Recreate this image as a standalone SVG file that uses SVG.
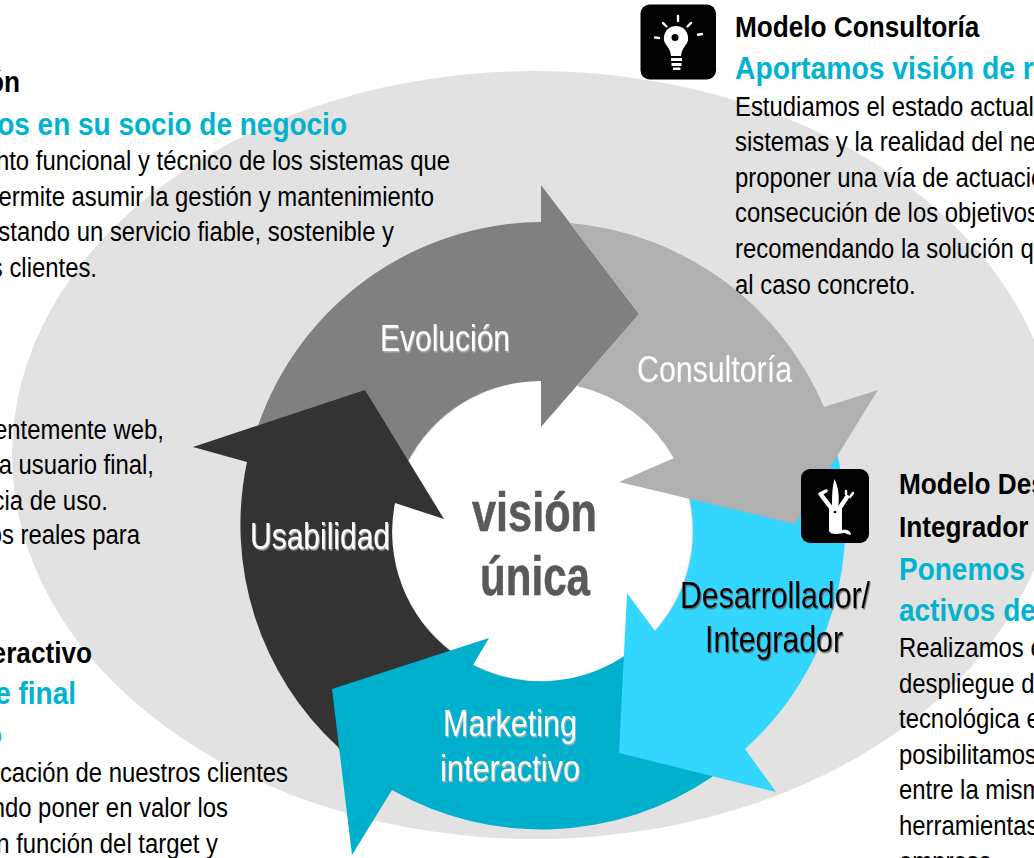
<svg xmlns="http://www.w3.org/2000/svg" width="1034" height="858" viewBox="0 0 1034 858">
<style>
text{font-family:"Liberation Sans",Arial,sans-serif}
.h{font-size:29.500px;font-weight:700;fill:#000}
.s{font-size:32px;font-weight:700;fill:#00b4cf}
.b{font-size:27px;fill:#000}
.e{text-anchor:end}
.l{font-size:36px;fill:#fff;filter:url(#sh)}
.d{font-size:36px;fill:#000;filter:url(#sd)}
.c{font-size:56px;font-weight:700;fill:#595959;stroke:#595959;stroke-width:.6}
.ico{fill:#000}
.w{fill:#fff}
.r{stroke:#fff;stroke-width:2.4;stroke-linecap:round;fill:none}
.k{stroke:#fff;fill:none;stroke-linecap:round}
</style>
<defs>
<filter id="sh" x="-5%" y="-10%" width="110%" height="125%"><feDropShadow dx="1" dy="1.500" stdDeviation="0.300" flood-color="#b8b8b8" flood-opacity=".9"/></filter>
<filter id="sd" x="-5%" y="-10%" width="110%" height="125%"><feDropShadow dx="1" dy="1.500" stdDeviation="0.300" flood-color="#555" flood-opacity=".7"/></filter>
</defs>
<ellipse id="fondo" cx="535" cy="455" rx="523" ry="384" fill="#e2e2e2"/>
<circle id="centro" cx="542" cy="531" r="150" fill="#fff"/>

<g id="texto-evolucion">
<text class="h e" transform="matrix(.888 0 0 1 20 92)">ón</text>
<text class="s e" transform="matrix(.875 0 0 1 347 135)">os en su socio de negocio</text>
<text class="b e" transform="matrix(.885 0 0 1 450 170)">nto funcional y técnico de los sistemas que</text>
<text class="b e" transform="matrix(.885 0 0 1 434 206)">ermite asumir la gestión y mantenimiento</text>
<text class="b e" transform="matrix(.885 0 0 1 394 241)">stando un servicio fiable, sostenible y</text>
<text class="b e" transform="matrix(.885 0 0 1 97 277)">s clientes.</text>
</g>
<g id="texto-usabilidad">
<text class="b e" transform="matrix(.885 0 0 1 164 439)">entemente web,</text>
<text class="b e" transform="matrix(.885 0 0 1 154 474)">a usuario final,</text>
<text class="b e" transform="matrix(.885 0 0 1 108 510)">cia de uso.</text>
<text class="b e" transform="matrix(.885 0 0 1 140 544)">os reales para</text>
</g>
<g id="texto-marketing">
<text class="h e" transform="matrix(.888 0 0 1 92 663)">eractivo</text>
<text class="s e" transform="matrix(.875 0 0 1 76 704)">e final</text>
<text class="s e" transform="matrix(.875 0 0 1 2 745)">o</text>
<text class="b e" transform="matrix(.885 0 0 1 288 782)">cación de nuestros clientes</text>
<text class="b e" transform="matrix(.885 0 0 1 228 817)">ndo poner en valor los</text>
<text class="b e" transform="matrix(.885 0 0 1 218 853)">n función del target y</text>
</g>
<g id="texto-consultoria">
<text class="h" transform="matrix(.888 0 0 1 735 37)">Modelo Consultoría</text>
<text class="s" transform="matrix(.885 0 0 1 735 79)">Aportamos visión de r</text>
<text class="b" transform="matrix(.885 0 0 1 735 116)">Estudiamos el estado actual</text>
<text class="b" transform="matrix(.885 0 0 1 735 151)">sistemas y la realidad del ne</text>
<text class="b" transform="matrix(.885 0 0 1 735 187)">proponer una vía de actuació</text>
<text class="b" transform="matrix(.885 0 0 1 735 222)">consecución de los objetivos</text>
<text class="b" transform="matrix(.885 0 0 1 735 258)">recomendando la solución q</text>
<text class="b" transform="matrix(.885 0 0 1 735 294)">al caso concreto.</text>
</g>
<g id="texto-desarrollador">
<text class="h" transform="matrix(.888 0 0 1 899 494)">Modelo Des</text>
<text class="h" transform="matrix(.888 0 0 1 899 537)">Integrador</text>
<text class="s" transform="matrix(.875 0 0 1 899 580)">Ponemos</text>
<text class="s" transform="matrix(.875 0 0 1 899 621)">activos de</text>
<text class="b" transform="matrix(.885 0 0 1 899 657)">Realizamos e</text>
<text class="b" transform="matrix(.885 0 0 1 899 693)">despliegue d</text>
<text class="b" transform="matrix(.885 0 0 1 899 728)">tecnológica e</text>
<text class="b" transform="matrix(.885 0 0 1 899 764)">posibilitamos</text>
<text class="b" transform="matrix(.885 0 0 1 899 799)">entre la mism</text>
<text class="b" transform="matrix(.885 0 0 1 899 835)">herramientas</text>
<text class="b" transform="matrix(.885 0 0 1 899 871)">empresa</text>
</g>

<g id="connectors">
<path id="flecha-evolucion" fill="#808080" d="M541 185L639 314L541 427V381A150 150 0 0 0 407 463L300 500L258 426A302 302 0 0 1 541 222Z"/>
<path id="flecha-usabilidad" fill="#333333" d="M193 447L365 390L444 519L395 503A150 150 0 0 0 452 652L345 760L338 747A302 302 0 0 1 247 462Z"/>
<path id="flecha-marketing" fill="#00b0cc" d="M332 689L489 638L473 665A150 150 0 0 0 630 652L730 740L712 777A303 303 0 0 1 392 790L352 855Z"/>
<path id="flecha-desarrollador" fill="#33d6ff" d="M627 593L655 631A150 150 0 0 0 680 470L835 445A303 303 0 0 1 745 749L776 792L619 753Z"/>
<path id="flecha-consultoria" fill="#b0b0b0" d="M570 223L639 314L577 386A150 150 0 0 1 674 458L619 482L795 524L878 390L824 407A305 305 0 0 0 570 223Z"/>
</g>

<g id="nodo-vision">
<text class="c" x="472" y="531" textLength="125" lengthAdjust="spacingAndGlyphs">visión</text>
<text class="c" x="480" y="595" textLength="110" lengthAdjust="spacingAndGlyphs">única</text>
</g>
<g id="nodo-evolucion"><text class="l" x="380" y="350.500" textLength="130" lengthAdjust="spacingAndGlyphs">Evolución</text></g>
<g id="nodo-consultoria"><text class="l" x="637" y="382" textLength="155" lengthAdjust="spacingAndGlyphs">Consultoría</text></g>
<g id="nodo-usabilidad"><text class="l" x="250" y="549" textLength="140" lengthAdjust="spacingAndGlyphs">Usabilidad</text></g>
<g id="nodo-marketing">
<text class="l" x="443" y="736" textLength="134" lengthAdjust="spacingAndGlyphs">Marketing</text>
<text class="l" x="440" y="781" textLength="140" lengthAdjust="spacingAndGlyphs">interactivo</text>
</g>
<g id="nodo-desarrollador">
<text class="d" x="680" y="608" textLength="190" lengthAdjust="spacingAndGlyphs">Desarrollador/</text>
<text class="d" x="705" y="652" textLength="138" lengthAdjust="spacingAndGlyphs">Integrador</text>
</g>

<g id="icono-bombilla">
<rect class="ico" x="640.500" y="4.500" width="75.500" height="75" rx="9"/>
<path class="w" d="M676 26A12 12 0 0 1 685 46C682.500 49 681.500 52 681 56H671C670.500 52 669.500 49 667 46A12 12 0 0 1 676 26Z"/>
<circle class="ico" cx="675" cy="37.500" r="3.500"/>
<path class="w" d="M671 58h11v3h-11zM671.500 63h10v3h-10zM673 67.500h7.500v2.500h-7.500z"/>
<path class="r" d="M678 16v5M663 23l3.500 3.500M691 23l-3.500 3.500M655 37.500l4 .5M702 34l-4 .8"/>
</g>
<g id="icono-navaja">
<rect class="ico" x="801" y="469" width="68" height="74" rx="9"/>
<path class="w" d="M834.500 479C838 486 840 497 838 508H832C832 497 832 488 834.500 479Z"/>
<path class="w" d="M829 507H842V530C846 529 851 530 851 535L847 534C844 532 841 534 837 534C832 534 829 533 829 530Z"/>
<path class="k" stroke-width="4.500" d="M832 509L822 496M839 509L847 497"/>
<path class="k" stroke-width="3.500" d="M820 494L826 491"/>
<path class="k" stroke-width="2.500" d="M846 494L846 491M850 497L853 493"/>
<circle class="ico" cx="835" cy="512" r="1.300"/>
</g>
</svg>
